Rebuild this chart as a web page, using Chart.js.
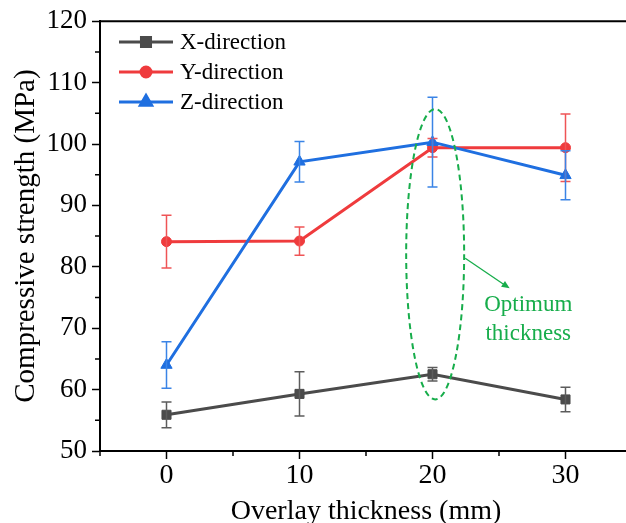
<!DOCTYPE html>
<html>
<head>
<meta charset="utf-8">
<script src="https://cdn.jsdelivr.net/npm/chart.js@4.4.0/dist/chart.umd.min.js"></script>
<style>
  html, body { margin: 0; padding: 0; background: #fff; overflow: hidden; width: 626px; height: 523px; }
  canvas { display: block; }
</style>
</head>
<body>
<canvas id="chart" width="640" height="540"></canvas>
<script>
// data
const thickness = [0, 10, 20, 30];
const xDirection = [55.9, 59.3, 62.5, 58.4];
const xDirectionErr = [2.1, 3.6, 1.1, 2.0];
const yDirection = [84.1, 84.2, 99.4, 99.4];
const yDirectionErr = [4.3, 2.3, 1.5, 5.5];
const zDirection = [64.0, 97.1, 100.3, 94.9];
const zDirectionErr = [3.8, 3.3, 7.3, 4.0];
const seriesNames = ["X-direction", "Y-direction", "Z-direction"];
const xTickLabels = [0, 10, 20, 30];
const yTickLabels = [50, 60, 70, 80, 90, 100, 110, 120];

// dashed ellipse + note, in data units
const optimumNote = {
    cx: 20.2, cy: 82.05, rx: 2.18, ry: 23.65,
    arrowFrom: [22.46, 81.4], arrowTo: [25.8, 76.5],
    textX: 27.2, lines: [["Optimum", 72.8], ["thickness", 68.1]],
};

const FONT = "'Liberation Serif', 'Times New Roman', serif";
const GREEN = "#17ad4b";

const points = vals => thickness.map((t, i) => ({ x: t, y: vals[i] }));

const extras = {
    id: "extras",
    afterDatasetsDraw(chart) {
        const { ctx, scales: { x, y } } = chart;
        ctx.save();
        // error bars
        chart.data.datasets.forEach(ds => {
            ctx.strokeStyle = ds.errColor;
            ctx.lineWidth = 1.5;
            ds.data.forEach((p, j) => {
                const px = x.getPixelForValue(p.x);
                const top = y.getPixelForValue(p.y + ds.err[j]);
                const bot = y.getPixelForValue(p.y - ds.err[j]);
                ctx.beginPath();
                ctx.moveTo(px, top); ctx.lineTo(px, bot);
                ctx.moveTo(px - 5, top); ctx.lineTo(px + 5, top);
                ctx.moveTo(px - 5, bot); ctx.lineTo(px + 5, bot);
                ctx.stroke();
            });
        });

        // optimum ellipse
        const n = optimumNote;
        const cx = x.getPixelForValue(n.cx), cy = y.getPixelForValue(n.cy);
        const rx = Math.abs(x.getPixelForValue(n.cx + n.rx) - cx);
        const ry = Math.abs(y.getPixelForValue(n.cy + n.ry) - cy);
        ctx.strokeStyle = GREEN;
        ctx.lineWidth = 2;
        ctx.setLineDash([6, 4]);
        ctx.beginPath();
        ctx.ellipse(cx, cy, rx, ry, 0, 0, Math.PI * 2);
        ctx.stroke();
        ctx.setLineDash([]);

        // arrow
        const ax = x.getPixelForValue(n.arrowFrom[0]), ay = y.getPixelForValue(n.arrowFrom[1]);
        const bx = x.getPixelForValue(n.arrowTo[0]), by = y.getPixelForValue(n.arrowTo[1]);
        const ang = Math.atan2(by - ay, bx - ax);
        ctx.lineWidth = 1.3;
        ctx.beginPath();
        ctx.moveTo(ax, ay); ctx.lineTo(bx - 6 * Math.cos(ang), by - 6 * Math.sin(ang));
        ctx.stroke();
        ctx.fillStyle = GREEN;
        ctx.beginPath();
        ctx.moveTo(bx, by);
        ctx.lineTo(bx - 8 * Math.cos(ang) + 3.5 * Math.sin(ang), by - 8 * Math.sin(ang) - 3.5 * Math.cos(ang));
        ctx.lineTo(bx - 8 * Math.cos(ang) - 3.5 * Math.sin(ang), by - 8 * Math.sin(ang) + 3.5 * Math.cos(ang));
        ctx.closePath();
        ctx.fill();

        ctx.font = "23px " + FONT;
        ctx.textAlign = "center";
        ctx.textBaseline = "alphabetic";
        n.lines.forEach(([txt, v]) => ctx.fillText(txt, x.getPixelForValue(n.textX), y.getPixelForValue(v)));
        ctx.restore();
    },
    afterDraw(chart) {
        const { ctx, chartArea: a, scales: { x, y } } = chart;
        ctx.save();
        // top frame line
        ctx.strokeStyle = "#000";
        ctx.lineWidth = 2;
        ctx.beginPath();
        ctx.moveTo(a.left - 1, a.top); ctx.lineTo(a.right, a.top);
        ctx.stroke();

        // short minor ticks
        ctx.lineWidth = 1.5;
        ctx.beginPath();
        x.ticks.forEach(t => {
            if (xTickLabels.includes(t.value)) return;
            const px = x.getPixelForValue(t.value);
            ctx.moveTo(px, a.bottom); ctx.lineTo(px, a.bottom + 5);
        });
        y.ticks.forEach(t => {
            if (yTickLabels.includes(t.value)) return;
            const py = y.getPixelForValue(t.value);
            ctx.moveTo(a.left, py); ctx.lineTo(a.left - 5, py);
        });
        ctx.stroke();

        // legend
        ctx.font = "23px " + FONT;
        ctx.textAlign = "left";
        ctx.textBaseline = "middle";
        chart.data.datasets.forEach((ds, i) => {
            const rowY = 42 + i * 30;
            ctx.strokeStyle = ds.borderColor;
            ctx.lineWidth = 3;
            ctx.beginPath();
            ctx.moveTo(119, rowY); ctx.lineTo(173, rowY);
            ctx.stroke();
            Chart.helpers.drawPoint(ctx, {
                pointStyle: ds.pointStyle, radius: ds.pointRadius, borderWidth: 1, rotation: 0,
            }, 146, rowY);
            ctx.fillStyle = ds.borderColor;
            ctx.strokeStyle = ds.borderColor;
            ctx.fill();
            ctx.fillStyle = "#000";
            ctx.fillText(ds.label, 180, rowY + 1);
        });
        ctx.restore();
    },
};

const majorTick = list => c => (c.tick && list.includes(c.tick.value) ? "#000" : "rgba(0,0,0,0)");

new Chart(document.getElementById("chart"), {
    type: "line",
    data: {
        datasets: [
            {
                label: seriesNames[0], data: points(xDirection), err: xDirectionErr,
                borderColor: "#4b4b4b", backgroundColor: "#4b4b4b", pointBackgroundColor: "#4b4b4b",
                errColor: "#5c5c5c", pointStyle: "rect", pointRadius: 6.4, order: 2,
            },
            {
                label: seriesNames[1], data: points(yDirection), err: yDirectionErr,
                borderColor: "#ef3b3d", backgroundColor: "#ef3b3d", pointBackgroundColor: "#ef3b3d",
                errColor: "#ef5456", pointStyle: "circle", pointRadius: 5, order: 1,
            },
            {
                label: seriesNames[2], data: points(zDirection), err: zDirectionErr,
                borderColor: "#1f6fe0", backgroundColor: "#1f6fe0", pointBackgroundColor: "#1f6fe0",
                errColor: "#3a84e6", pointStyle: "triangle", pointRadius: 6.5, order: 0,
            },
        ],
    },
    options: {
        responsive: false,
        animation: false,
        layout: { padding: { left: 0, right: 8, top: 17, bottom: 0 } },
        elements: { line: { borderWidth: 3, tension: 0 }, point: { borderWidth: 1 } },
        plugins: { legend: { display: false }, tooltip: { enabled: false } },
        scales: {
            x: {
                type: "linear", min: -5, max: 35,
                afterFit: s => { s.height = 89; },
                border: { display: true, color: "#000", width: 2 },
                grid: { drawOnChartArea: false, tickLength: 8, tickWidth: 1.5, tickColor: majorTick(xTickLabels) },
                ticks: {
                    stepSize: 5, autoSkip: false, maxRotation: 0, padding: 0, color: "#000",
                    font: { family: FONT, size: 28 },
                    callback: v => (xTickLabels.includes(v) ? String(v) : ""),
                },
                title: {
                    display: true, text: "Overlay thickness (mm)", color: "#000",
                    font: { family: FONT, size: 28 }, padding: { top: 0, bottom: 12 },
                },
            },
            y: {
                min: 50, max: 120,
                afterFit: s => { s.width = 100; },
                border: { display: true, color: "#000", width: 2 },
                grid: { drawOnChartArea: false, tickLength: 8, tickWidth: 1.5, tickColor: majorTick(yTickLabels) },
                ticks: {
                    stepSize: 5, autoSkip: false, padding: 5, color: "#000",
                    font: { family: FONT, size: 27 },
                    callback: v => (yTickLabels.includes(v) ? String(v) : ""),
                },
                title: {
                    display: true, text: "Compressive strength (MPa)", color: "#000",
                    font: { family: FONT, size: 29 }, padding: { top: 9, bottom: 0 },
                },
            },
        },
    },
    plugins: [extras],
});
</script>
</body>
</html>
